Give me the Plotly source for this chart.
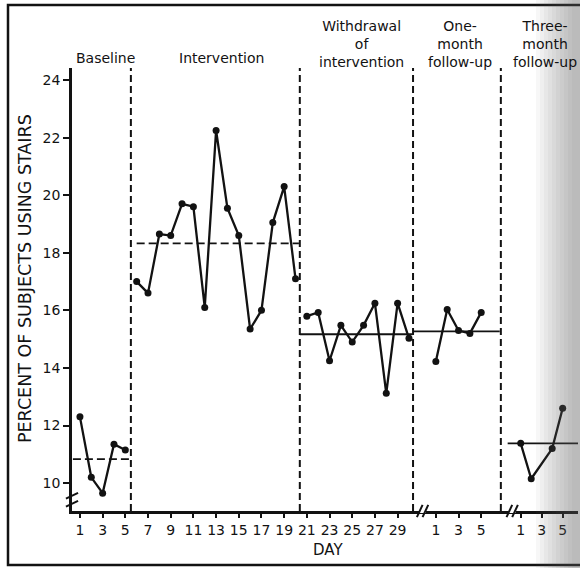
import plotly.graph_objects as go

# ---- data ----
baseline_days = [1, 2, 3, 4, 5]
baseline_vals = [12.3, 10.2, 9.65, 11.35, 11.15]

intervention_days = list(range(6, 21))
intervention_vals = [17.0, 16.6, 18.65, 18.6, 19.7, 19.6, 16.1, 22.25,
                     19.55, 18.6, 15.35, 16.0, 19.05, 20.3, 17.1]

withdrawal_days = list(range(21, 31))
withdrawal_vals = [15.8, 15.93, 14.25, 15.48, 14.9, 15.48, 16.25, 13.12,
                   16.25, 15.03]

one_month_days = [1, 2, 3, 4, 5]
one_month_vals = [14.22, 16.03, 15.3, 15.2, 15.93]

three_month_days = [1, 2, 4, 5]
three_month_vals = [11.38, 10.15, 11.2, 12.6]

phase_means = [10.83, 18.33, 15.17, 15.27, 11.38]

main_tick_days = list(range(1, 30, 2))
follow_tick_days = [1, 3, 5]
y_ticks = [10, 12, 14, 16, 18, 20, 22, 24]

# ---- layout positions on the continuous x axis ----
ONE_OFF = 31.37
THREE_START = 39.85
THREE_STEP = 0.925


def one_pos(d):
    return ONE_OFF + d


def three_pos(d):
    return THREE_START + (d - 1) * THREE_STEP


XMIN, XMAX = 0.3, 44.9
YMIN, YMAX = 9.03, 24.42
INK = "#121212"
FONT = "DejaVu Sans"

fig = go.Figure()

series = [
    (baseline_days, baseline_vals),
    (intervention_days, intervention_vals),
    (withdrawal_days, withdrawal_vals),
    ([one_pos(d) for d in one_month_days], one_month_vals),
    ([three_pos(d) for d in three_month_days], three_month_vals),
]
for xs, ys in series:
    fig.add_trace(go.Scatter(
        x=xs, y=ys, mode="lines+markers",
        line=dict(color=INK, width=2.3),
        marker=dict(color=INK, size=7),
        showlegend=False, hoverinfo="skip"))

# phase mean lines
mean_spans = [(0.38, 5.5), (6.0, 20.3), (20.38, 30.3), (30.4, 38.0), (38.7, 44.9)]
mean_dash = ["8px,4px", "8px,4px", "solid", "solid", "solid"]
for (x0, x1), m, d in zip(mean_spans, phase_means, mean_dash):
    fig.add_trace(go.Scatter(
        x=[x0, x1], y=[m, m], mode="lines",
        line=dict(color=INK, width=1.8, dash=d),
        showlegend=False, hoverinfo="skip"))

shapes = []
# phase separators
for sx in [5.49, 20.38, 30.36, 38.1]:
    shapes.append(dict(type="line", xref="x", yref="paper", x0=sx, x1=sx,
                       y0=0, y1=1, line=dict(color=INK, width=2, dash="7px,4px")))

# x axis break marks
for bx in [31.2, 39.1]:
    shapes.append(dict(type="line", xref="x", yref="paper", x0=bx - 0.3, x1=bx + 0.3,
                       y0=0, y1=0, line=dict(color="white", width=4), layer="above"))
    for off in (-0.25, 0.25):
        shapes.append(dict(type="line", xref="x", yref="paper",
                           x0=bx + off - 0.25, x1=bx + off + 0.25,
                           y0=-0.014, y1=0.014, line=dict(color=INK, width=2),
                           layer="above"))
# y axis break marks
for off in (-0.14, 0.14):
    shapes.append(dict(type="line", xref="paper", yref="y",
                       x0=-0.012, x1=0.012, y0=9.42 + off - 0.1, y1=9.42 + off + 0.1,
                       line=dict(color=INK, width=2), layer="above"))

# outer frame of the scanned figure
shapes.append(dict(type="rect", xref="paper", yref="paper",
                   x0=(8 - 72) / 506, x1=1.02, y0=(511 - 565) / 443, y1=(511 - 5) / 443,
                   line=dict(color=INK, width=2.5)))

# scan shadow on the right edge (soft gradient from stacked translucent bands)
for i in range(10):
    px = 536 + i * 4
    shapes.append(dict(type="rect", xref="paper", yref="paper",
                       x0=(px - 72) / 506, x1=1.03, y0=-0.2, y1=1.2,
                       fillcolor="rgba(90,90,90,0.05)", line=dict(width=0), layer="above"))

annotations = []


def py(p):
    return (511 - p) / 443


def pxx(p):
    return (p - 72) / 506


phase_labels = [
    (105, "Baseline", 58),
    (221, "Intervention", 58),
    (361, "Withdrawal<br>of<br>intervention", 44),
    (460, "One-<br>month<br>follow-up", 44),
    (545, "Three-<br>month<br>follow-up", 44),
]
for x, t, yy in phase_labels:
    annotations.append(dict(text=t, x=pxx(x), y=py(yy), xref="paper", yref="paper",
                            showarrow=False, xanchor="center", yanchor="middle",
                            font=dict(family=FONT, size=14, color=INK)))

annotations.append(dict(text="PERCENT OF SUBJECTS USING STAIRS", x=pxx(25), y=py(279),
                        xref="paper", yref="paper", showarrow=False, textangle=-90,
                        xanchor="center", yanchor="middle",
                        font=dict(family=FONT, size=17.5, color=INK)))
annotations.append(dict(text="DAY", x=pxx(328), y=py(550), xref="paper", yref="paper",
                        showarrow=False, xanchor="center", yanchor="middle",
                        font=dict(family=FONT, size=15, color=INK)))

tickvals = main_tick_days + [one_pos(d) for d in follow_tick_days] + \
    [three_pos(d) for d in follow_tick_days]
ticktext = [str(d) for d in main_tick_days] + [str(d) for d in follow_tick_days] * 2

fig.update_layout(
    width=580, height=568,
    margin=dict(l=72, r=2, t=68, b=57),
    paper_bgcolor="white", plot_bgcolor="white",
    shapes=shapes, annotations=annotations,
    xaxis=dict(range=[XMIN, XMAX], showgrid=False, zeroline=False,
               showline=True, linecolor=INK, linewidth=2.5,
               tickmode="array", tickvals=tickvals, ticktext=ticktext,
               ticks="outside", ticklen=4, tickwidth=1.5, tickcolor=INK,
               tickfont=dict(family=FONT, size=14, color=INK)),
    yaxis=dict(range=[YMIN, YMAX], showgrid=False, zeroline=False,
               showline=True, linecolor=INK, linewidth=2.5,
               tickmode="array", tickvals=y_ticks,
               ticks="outside", ticklen=6, tickwidth=2, tickcolor=INK,
               tickfont=dict(family=FONT, size=14, color=INK)),
)

fig.write_html("out.html", config={"displayModeBar": False},
               post_script="document.body.style.margin='0';document.body.style.padding='0';")
